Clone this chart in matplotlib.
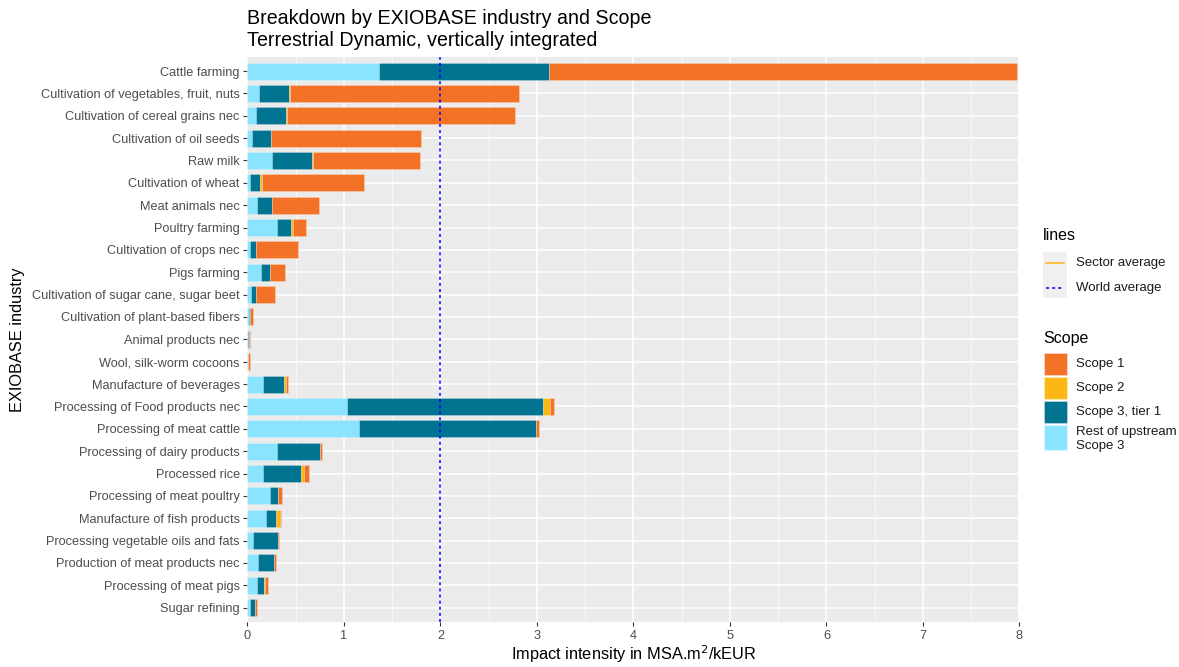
import matplotlib
matplotlib.use('Agg')
import matplotlib.pyplot as plt
from matplotlib.patches import Rectangle
from matplotlib.lines import Line2D
import numpy as np

plt.rcParams['font.family'] = ['Liberation Sans', 'DejaVu Sans']

industries = [
    'Cattle farming', 'Cultivation of vegetables, fruit, nuts',
    'Cultivation of cereal grains nec', 'Cultivation of oil seeds', 'Raw milk',
    'Cultivation of wheat', 'Meat animals nec', 'Poultry farming',
    'Cultivation of crops nec', 'Pigs farming',
    'Cultivation of sugar cane, sugar beet', 'Cultivation of plant-based fibers',
    'Animal products nec', 'Wool, silk-worm cocoons', 'Manufacture of beverages',
    'Processing of Food products nec', 'Processing of meat cattle',
    'Processing of dairy products', 'Processed rice', 'Processing of meat poultry',
    'Manufacture of fish products', 'Processing vegetable oils and fats',
    'Production of meat products nec', 'Processing of meat pigs', 'Sugar refining',
]

# segment widths, stacked left to right: rest of upstream, tier 1, scope 2, scope 1
rest_upstream = [1.36, 0.12, 0.09, 0.05, 0.25, 0.03, 0.10, 0.31, 0.03, 0.14, 0.04, 0.014,
                 0.005, 0.004, 0.156, 1.034, 1.152, 0.301, 0.159, 0.232, 0.187, 0.055,
                 0.107, 0.097, 0.024]
scope3_tier1 = [1.77, 0.31, 0.31, 0.19, 0.42, 0.10, 0.15, 0.145, 0.06, 0.09, 0.045, 0.01,
                0.01, 0.006, 0.221, 2.026, 1.836, 0.446, 0.394, 0.083, 0.111, 0.263,
                0.163, 0.079, 0.056]
scope2 = [0.0, 0.01, 0.005, 0.0, 0.013, 0.025, 0.0, 0.014, 0.0, 0.0, 0.0, 0.0,
          0.0, 0.0, 0.023, 0.076, 0.002, 0.008, 0.038, 0.003, 0.034, 0.0,
          0.004, 0.004, 0.0]
scope1 = [4.85, 2.37, 2.365, 1.555, 1.10, 1.05, 0.495, 0.135, 0.435, 0.155, 0.205, 0.031,
          0.008, 0.012, 0.02, 0.042, 0.036, 0.02, 0.049, 0.038, 0.018, 0.004,
          0.02, 0.031, 0.02]
world_average = 2.0

col_s1 = '#F47226'
col_s2 = '#FDB714'
col_t1 = '#007491'
col_rest = '#8AE4FF'

fig = plt.figure(figsize=(11.79, 6.67), dpi=100)
ax = fig.add_axes([0.2099, 0.0675, 0.6547, 0.8475])
ax.set_facecolor('#EBEBEB')

y = np.arange(len(industries))
left = np.zeros(len(industries))
for vals, col in [(rest_upstream, col_rest), (scope3_tier1, col_t1),
                  (scope2, col_s2), (scope1, col_s1)]:
    ax.barh(y, vals, left=left, height=0.76, color=col, edgecolor=(1, 1, 1, 0.25),
            linewidth=0.6, zorder=3)
    left = left + np.array(vals)

ax.axvline(world_average, color='#0000FF', linestyle=(0, (2, 2)), linewidth=1.1, zorder=4)

ax.set_xlim(0, 8)
ax.set_ylim(len(industries) - 0.36, -0.64)
ax.set_xticks(range(0, 9))
ax.set_xticks(np.arange(0.5, 8, 1), minor=True)
ax.set_yticks(y)
ax.set_yticklabels(industries)
ax.grid(True, which='major', color='white', linewidth=1.1, zorder=0)
ax.grid(True, which='minor', axis='x', color='white', linewidth=0.5, zorder=0)
for s in ax.spines.values():
    s.set_visible(False)
ax.tick_params(axis='both', which='major', colors='#333333', labelcolor='#4D4D4D',
               labelsize=9.2, length=3, width=0.8, pad=2.5)
ax.tick_params(axis='both', which='minor', length=0)

ax.set_xlabel('Impact intensity in MSA.m$^2$/kEUR', fontsize=11.8, labelpad=1)
ax.set_ylabel('EXIOBASE industry', fontsize=11.8, labelpad=5)
ax.set_title('Breakdown by EXIOBASE industry and Scope\nTerrestrial Dynamic, vertically integrated',
             loc='left', fontsize=14.1, linespacing=1.2, pad=8)


# legends drawn by hand in pixel coordinates
W, H = 1179.0, 667.0
def fx(px):
    return px / W
def fy(py):
    return 1 - py / H

fig.text(fx(1043), fy(236), 'lines', fontsize=11.5, va='center', ha='left')
fig.add_artist(Rectangle((fx(1043), fy(298)), fx(24), 46 / H, transform=fig.transFigure,
                         facecolor='#F0F0F0', edgecolor='none'))
fig.add_artist(Line2D([fx(1046), fx(1064)], [fy(263), fy(263)], transform=fig.transFigure,
                      color='#FDB714', linewidth=1.1))
fig.add_artist(Line2D([fx(1046), fx(1064)], [fy(288), fy(288)], transform=fig.transFigure,
                      color='#0000FF', linewidth=1.1, linestyle=(0, (2, 2))))
fig.text(fx(1076), fy(263), 'Sector average', fontsize=9.5, va='center', color='#1A1A1A')
fig.text(fx(1076), fy(288), 'World average', fontsize=9.5, va='center', color='#1A1A1A')

fig.text(fx(1043), fy(338), 'Scope', fontsize=11.5, va='center', ha='left')
scope_keys = [('Scope 1', col_s1, 353, 375, 364),
              ('Scope 2', col_s2, 377, 399, 388),
              ('Scope 3, tier 1', col_t1, 401, 423, 412),
              ('Rest of upstream\nScope 3', col_rest, 425, 450, 439)]
for lab, col, top, bot, yc in scope_keys:
    fig.add_artist(Rectangle((fx(1044), fy(bot)), fx(22.5), (bot - top) / H,
                             transform=fig.transFigure, facecolor=col,
                             edgecolor=(1, 1, 1, 0.4), linewidth=0.6))
    fig.text(fx(1076), fy(yc), lab, fontsize=9.5, va='center', color='#1A1A1A',
             linespacing=1.2)

fig.savefig('out.png', dpi=100)
